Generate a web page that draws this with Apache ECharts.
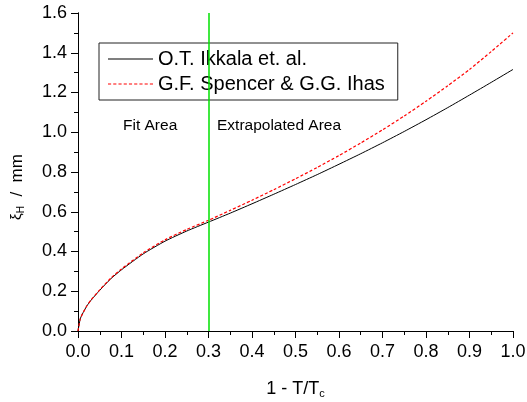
<!DOCTYPE html>
<html>
<head>
<meta charset="utf-8">
<script src="https://cdn.jsdelivr.net/npm/echarts@6/dist/echarts.min.js"></script>
<style>html,body{margin:0;padding:0;background:#fff}#c{width:527px;height:402px}</style>
</head>
<body>
<div id="c"></div>
<script>
// Data
var xs = [0, 0.005, 0.01, 0.02, 0.03, 0.05, 0.075, 0.1, 0.15, 0.2, 0.25, 0.3, 0.35, 0.4, 0.45, 0.5, 0.55, 0.6, 0.65, 0.7, 0.75, 0.8, 0.85, 0.9, 0.95, 1.0];
var ikkala = [0, 0.06, 0.085, 0.125, 0.155, 0.205, 0.262, 0.308, 0.388, 0.452, 0.503, 0.548, 0.593, 0.640, 0.688, 0.737, 0.787, 0.839, 0.892, 0.947, 1.004, 1.063, 1.124, 1.187, 1.251, 1.316];
var spencer = [0, 0.06, 0.085, 0.125, 0.156, 0.207, 0.265, 0.312, 0.393, 0.459, 0.511, 0.557, 0.607, 0.658, 0.711, 0.766, 0.823, 0.883, 0.946, 1.012, 1.082, 1.156, 1.234, 1.316, 1.406, 1.50];
var seriesNames = ['O.T. Ikkala et. al.', 'G.F. Spencer & G.G. Ihas'];
var boundaryX = 0.3;
var regionLabels = ['Fit Area', 'Extrapolated Area'];

var FONT = 'Liberation Sans, Arial, sans-serif';
function pairs(ys){ return xs.map(function(x,i){ return [x, ys[i]]; }); }
var fmt = function(v){ return v.toFixed(1); };
var dashIcon = 'path://';
for (var k = 0; k < 9; k++) { dashIcon += 'M' + (k * 5) + ',0h3v1h-3z'; }

var chart = echarts.init(document.getElementById('c'));
chart.setOption({
  animation: false,
  backgroundColor: '#fff',
  grid: { left: 78, right: 14, top: 13, bottom: 71, containLabel: false, outerBoundsMode: 'none' },
  legend: {
    data: [{ name: seriesNames[0], icon: 'rect' }, { name: seriesNames[1], icon: dashIcon }],
    orient: 'vertical',
    left: 99, top: 43,
    padding: [6, 13, 6, 9],
    itemGap: 5,
    itemWidth: 45,
    itemHeight: 1.2,
    itemTextGap: 8,
    borderColor: '#222', borderWidth: 1,
    backgroundColor: '#fff',
    textStyle: { fontFamily: FONT, fontSize: 20, color: '#000', lineHeight: 20 }
  },
  xAxis: [{
    type: 'value', min: 0, max: 1, interval: 0.1, position: 'bottom',
    name: '{a|1 - T/T}{s|c}', nameLocation: 'middle', nameGap: 48,
    nameTextStyle: { rich: {
      a: { fontFamily: FONT, fontSize: 18, color: '#000' },
      s: { fontFamily: FONT, fontSize: 11, color: '#000', verticalAlign: 'bottom', padding: [9,0,0,0] }
    }},
    axisLine: { lineStyle: { color: '#000', width: 1 } },
    axisTick: { inside: false, length: 7, lineStyle: { color: '#000' } },
    minorTick: { show: true, splitNumber: 2, length: 4, lineStyle: { color: '#000' } },
    axisLabel: { formatter: fmt, fontFamily: FONT, fontSize: 18, color: '#000', margin: 12 },
    splitLine: { show: false }
  }, {
    type: 'value', min: 0, max: 1, interval: 0.1, position: 'top',
    axisLine: { lineStyle: { color: '#000', width: 1 } },
    axisTick: { inside: true, length: 4, lineStyle: { color: '#000' } },
    minorTick: { show: true, splitNumber: 2, length: 3, lineStyle: { color: '#000' } },
    axisLabel: { show: false },
    splitLine: { show: false }
  }],
  yAxis: [{
    type: 'value', min: 0, max: 1.6, interval: 0.2, position: 'left',
    name: '{g|ξ}{s|H}{a|  /  mm}', nameLocation: 'middle', nameGap: 52,
    nameTextStyle: { padding: [0, 30, 0, 0], rich: {
      g: { fontFamily: FONT, fontSize: 15, color: '#000' },
      a: { fontFamily: FONT, fontSize: 17, color: '#000' },
      s: { fontFamily: FONT, fontSize: 10, color: '#000', verticalAlign: 'bottom', padding: [8,0,0,0] }
    }},
    axisLine: { lineStyle: { color: '#000', width: 1 } },
    axisTick: { inside: false, length: 7, lineStyle: { color: '#000' } },
    minorTick: { show: true, splitNumber: 2, length: 4, lineStyle: { color: '#000' } },
    axisLabel: { formatter: fmt, fontFamily: FONT, fontSize: 18, color: '#000', margin: 11 },
    splitLine: { show: false }
  }, {
    type: 'value', min: 0, max: 1.6, interval: 0.2, position: 'right',
    axisLine: { lineStyle: { color: '#000', width: 1 } },
    axisTick: { inside: true, length: 7, lineStyle: { color: '#000' } },
    minorTick: { show: true, splitNumber: 2, length: 3, lineStyle: { color: '#000' } },
    axisLabel: { show: false },
    splitLine: { show: false }
  }],
  graphic: [
    { type: 'text', left: 123, top: 118, style: { text: regionLabels[0], fontFamily: FONT, fontSize: 15.5, fill: '#000' } },
    { type: 'text', left: 217, top: 118, style: { text: regionLabels[1], fontFamily: FONT, fontSize: 15.5, fill: '#000' } }
  ],
  series: [{
    name: seriesNames[0], type: 'line', data: pairs(ikkala), symbol: 'none', smooth: 0.2,
    lineStyle: { color: '#000', width: 1 }, itemStyle: { color: '#000' },
    markLine: {
      silent: true, symbol: 'none', label: { show: false },
      lineStyle: { color: '#00e000', width: 1.5, type: 'solid' },
      data: [{ xAxis: boundaryX }]
    },
    z: 2
  }, {
    name: seriesNames[1], type: 'line', data: pairs(spencer), symbol: 'none', smooth: 0.2,
    lineStyle: { color: '#ff0000', width: 1.2, type: [3, 2] }, itemStyle: { color: '#ff0000' },
    z: 3
  }]
});
</script>
</body>
</html>
